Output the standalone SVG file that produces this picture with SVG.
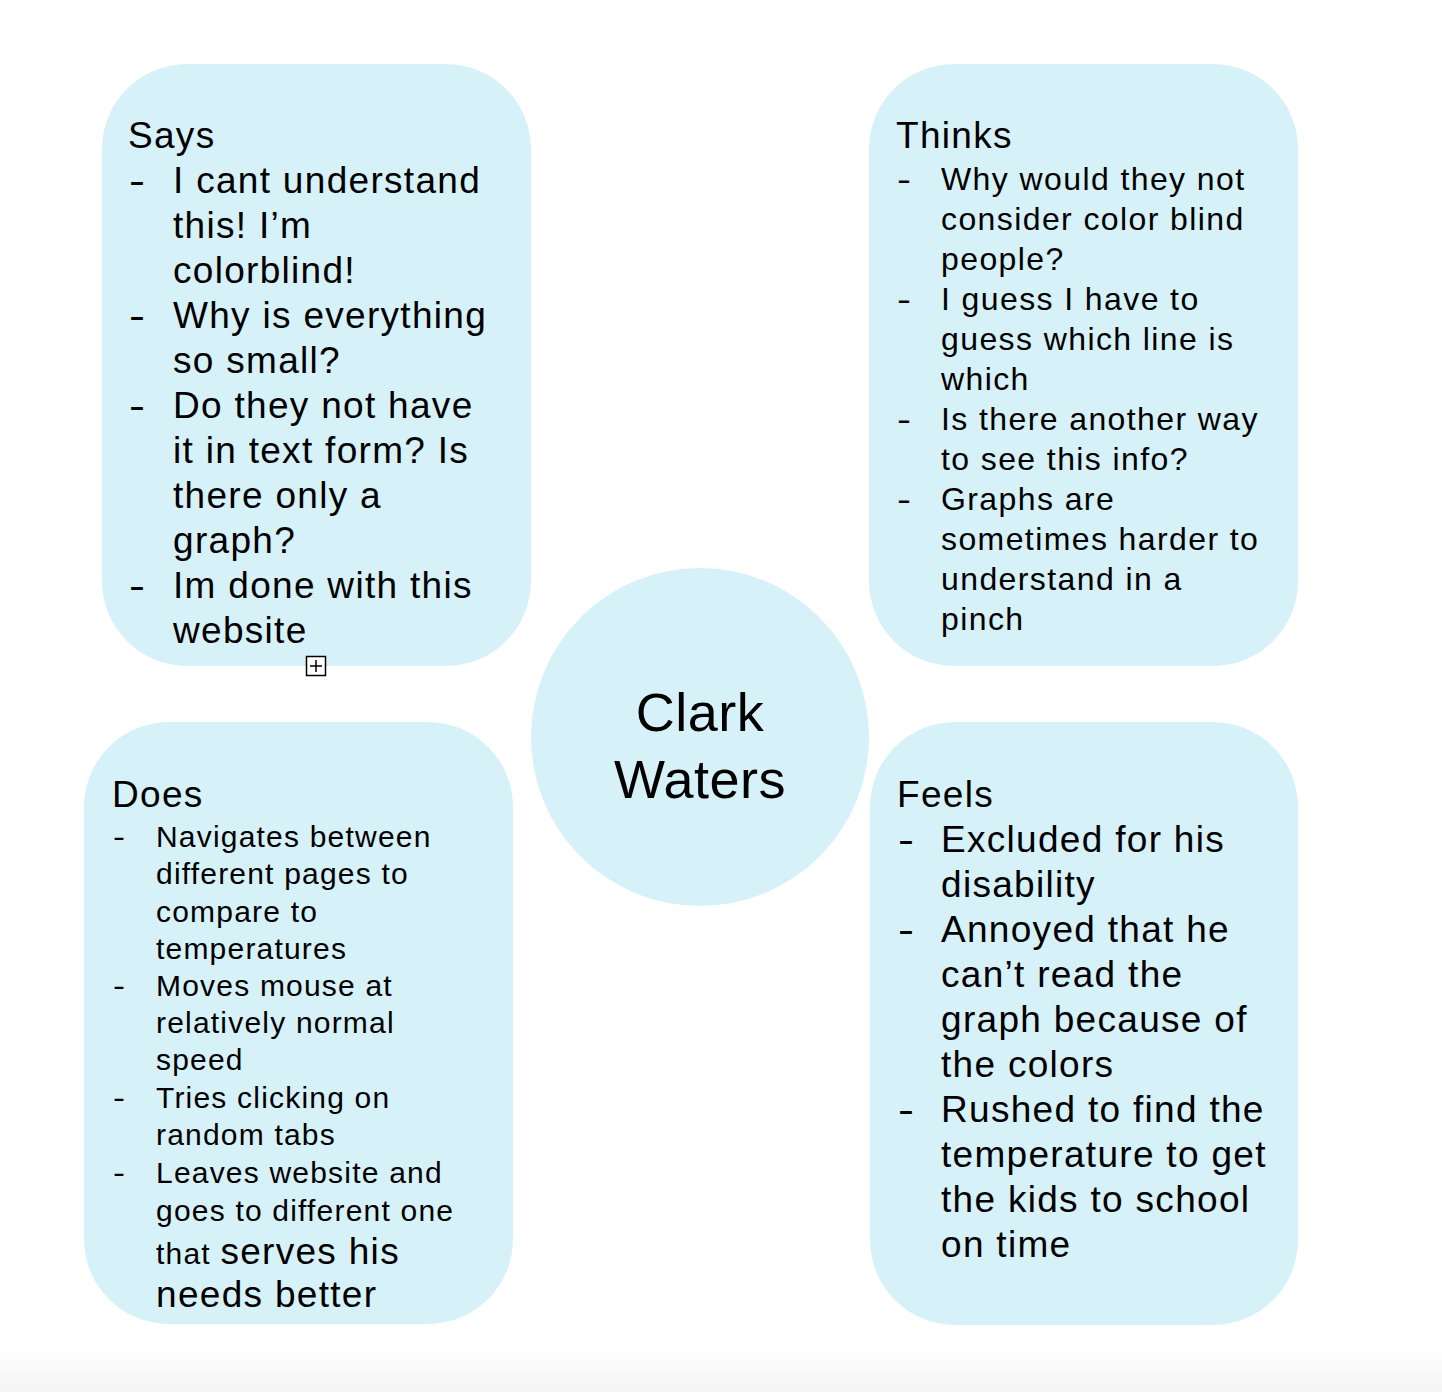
<svg xmlns="http://www.w3.org/2000/svg" width="1442" height="1392" viewBox="0 0 1442 1392">
<defs>
<linearGradient id="bot" x1="0" y1="0" x2="0" y2="1">
<stop offset="0" stop-color="#ffffff"/>
<stop offset="1" stop-color="#f3f3f3"/>
</linearGradient>
</defs>
<style>
.box{fill:#d7f1f8}
text{font-family:"Liberation Sans",Arial,sans-serif;fill:#000}
.big{font-size:37px;letter-spacing:1.3px}
.mid{font-size:32px;letter-spacing:1.4px}
.sm{font-size:30px;letter-spacing:1.2px}
.name{font-size:54px;letter-spacing:0.5px;text-anchor:middle}
.d{letter-spacing:0}
</style>
<rect x="0" y="0" width="1442" height="1392" fill="#ffffff"/>
<rect x="0" y="1345" width="1442" height="47" fill="url(#bot)"/>
<g id="connectors"></g>
<g id="says">
<rect class="box" x="102" y="64" width="429" height="602" rx="85" ry="85"/>
<text class="big" x="128" y="148">Says</text>
<text class="big d" x="129" y="193" textLength="16" lengthAdjust="spacingAndGlyphs">-</text>
<text class="big" x="173" y="193">I cant understand</text>
<text class="big" x="173" y="238">this! I’m</text>
<text class="big" x="173" y="283">colorblind!</text>
<text class="big d" x="129" y="328" textLength="16" lengthAdjust="spacingAndGlyphs">-</text>
<text class="big" x="173" y="328">Why is everything</text>
<text class="big" x="173" y="373">so small?</text>
<text class="big d" x="129" y="418" textLength="16" lengthAdjust="spacingAndGlyphs">-</text>
<text class="big" x="173" y="418">Do they not have</text>
<text class="big" x="173" y="463">it in text form? Is</text>
<text class="big" x="173" y="508">there only a</text>
<text class="big" x="173" y="553">graph?</text>
<text class="big d" x="129" y="598" textLength="16" lengthAdjust="spacingAndGlyphs">-</text>
<text class="big" x="173" y="598">Im done with this</text>
<text class="big" x="173" y="643">website</text>
</g>
<g id="thinks">
<rect class="box" x="869" y="64" width="429" height="602" rx="85" ry="85"/>
<text class="big" x="896" y="148">Thinks</text>
<text class="mid d" x="897" y="190" textLength="14" lengthAdjust="spacingAndGlyphs">-</text>
<text class="mid" x="941" y="190">Why would they not</text>
<text class="mid" x="941" y="230">consider color blind</text>
<text class="mid" x="941" y="270">people?</text>
<text class="mid d" x="897" y="310" textLength="14" lengthAdjust="spacingAndGlyphs">-</text>
<text class="mid" x="941" y="310">I guess I have to</text>
<text class="mid" x="941" y="350">guess which line is</text>
<text class="mid" x="941" y="390">which</text>
<text class="mid d" x="897" y="430" textLength="14" lengthAdjust="spacingAndGlyphs">-</text>
<text class="mid" x="941" y="430">Is there another way</text>
<text class="mid" x="941" y="470">to see this info?</text>
<text class="mid d" x="897" y="510" textLength="14" lengthAdjust="spacingAndGlyphs">-</text>
<text class="mid" x="941" y="510">Graphs are</text>
<text class="mid" x="941" y="550">sometimes harder to</text>
<text class="mid" x="941" y="590">understand in a</text>
<text class="mid" x="941" y="630">pinch</text>
</g>
<g id="center">
<circle class="box" cx="700" cy="737" r="169"/>
<text class="name" x="700" y="731">Clark</text>
<text class="name" x="700" y="798">Waters</text>
</g>
<g id="does">
<rect class="box" x="84" y="722" width="429" height="602" rx="85" ry="85"/>
<text class="big" x="112" y="807">Does</text>
<text class="sm d" x="113" y="847" textLength="12" lengthAdjust="spacingAndGlyphs">-</text>
<text class="sm" x="156" y="847">Navigates between</text>
<text class="sm" x="156" y="884">different pages to</text>
<text class="sm" x="156" y="922">compare to</text>
<text class="sm" x="156" y="959">temperatures</text>
<text class="sm d" x="113" y="996" textLength="12" lengthAdjust="spacingAndGlyphs">-</text>
<text class="sm" x="156" y="996">Moves mouse at</text>
<text class="sm" x="156" y="1033">relatively normal</text>
<text class="sm" x="156" y="1070">speed</text>
<text class="sm d" x="113" y="1108" textLength="12" lengthAdjust="spacingAndGlyphs">-</text>
<text class="sm" x="156" y="1108">Tries clicking on</text>
<text class="sm" x="156" y="1145">random tabs</text>
<text class="sm d" x="113" y="1183" textLength="12" lengthAdjust="spacingAndGlyphs">-</text>
<text class="sm" x="156" y="1183">Leaves website and</text>
<text class="sm" x="156" y="1221">goes to different one</text>
<text x="156" y="1264"><tspan class="sm">that </tspan><tspan class="big">serves his</tspan></text>
<text class="big" x="156" y="1307">needs better</text>
</g>
<g id="feels">
<rect class="box" x="870" y="722" width="428" height="603" rx="85" ry="85"/>
<text class="big" x="897" y="807">Feels</text>
<text class="big d" x="898" y="852" textLength="16" lengthAdjust="spacingAndGlyphs">-</text>
<text class="big" x="941" y="852">Excluded for his</text>
<text class="big" x="941" y="897">disability</text>
<text class="big d" x="898" y="942" textLength="16" lengthAdjust="spacingAndGlyphs">-</text>
<text class="big" x="941" y="942">Annoyed that he</text>
<text class="big" x="941" y="987">can’t read the</text>
<text class="big" x="941" y="1032">graph because of</text>
<text class="big" x="941" y="1077">the colors</text>
<text class="big d" x="898" y="1122" textLength="16" lengthAdjust="spacingAndGlyphs">-</text>
<text class="big" x="941" y="1122">Rushed to find the</text>
<text class="big" x="941" y="1167">temperature to get</text>
<text class="big" x="941" y="1212">the kids to school</text>
<text class="big" x="941" y="1257">on time</text>
</g>
<g id="handle">
<rect x="306.5" y="656.5" width="19" height="19" fill="#ffffff" stroke="#000" stroke-width="1.5"/>
<path d="M310 666H322M316 660V672" stroke="#000" stroke-width="1.5" fill="none"/>
</g>
</svg>
